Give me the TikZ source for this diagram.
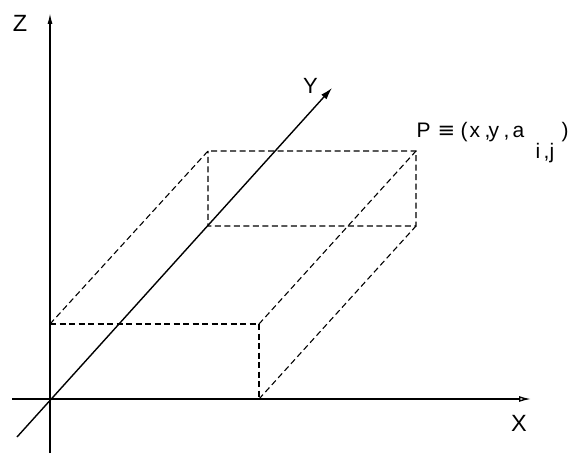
\documentclass[tikz,border=0pt]{standalone}
\usepackage{fontspec}
\setmainfont{Liberation Sans}
\newfontfamily\symfont{DejaVu Sans}
\usetikzlibrary{arrows.meta}
\newcommand\glyphat[3][0pt]{\makebox[0pt][l]{\hspace{#2}\raisebox{#1}{#3}}}
\begin{document}
\begin{tikzpicture}[x=1pt,y=-1pt,
  axis/.style={line width=1.4pt,black},
  hid/.style={line width=1.1pt,black,dash pattern=on 6pt off 3.5pt},
  lbl/.style={inner sep=0pt,font=\fontsize{23.5}{23.5}\selectfont}]
\useasboundingbox (0,0) rectangle (572,457);
% axis end points
\coordinate (O) at (50,399);
\coordinate (Zb) at (50,453);
\coordinate (Zt) at (50,13);
\coordinate (Xl) at (12,399);
\coordinate (Xr) at (531,399);
\coordinate (Yb) at (17,437);
\coordinate (Yt) at (332,88);
% box corners
\coordinate (A) at (50,324);   % front top left
\coordinate (B) at (259,324);  % front top right
\coordinate (C) at (259,399);  % front bottom right
\coordinate (D) at (208,151);  % back top left
\coordinate (P) at (416,151);  % back top right (point P)
\coordinate (E) at (208,226);  % back bottom left
\coordinate (F) at (416,226);  % back bottom right
% axes
\draw[axis,-{Latex[length=11pt,width=5pt]}] (Zb) -- (Zt);
\draw[axis,-{Latex[length=12pt,width=6pt,open]}] (Xl) -- (Xr);
\draw[axis,-{Latex[length=12pt,width=7pt]}] (Yb) -- (Yt);
% box
\draw[hid] (A) -- (B) -- (C);
\draw[hid] (A) -- (D) -- (P) -- (F) -- (E) -- (D);
\draw[hid] (B) -- (P);
\draw[hid] (C) -- (F);
% labels
\node[lbl] (zl) at (20,23.5) {Z};
\node[lbl] (xl) at (519,423.5) {X};
\node[lbl,font=\fontsize{22}{22}\selectfont] (yl) at (310.5,86) {Y};
\node[lbl,anchor=base west,font=\fontsize{21}{21}\selectfont] (pl) at (416,138)
  {\glyphat{0pt}{P}\glyphat{21pt}{\symfont ≡}\glyphat{44pt}{(}\glyphat{53pt}{x}%
   \glyphat{68pt}{,}\glyphat{72pt}{y}\glyphat{87pt}{,}\glyphat{96pt}{a}%
   \glyphat[-21pt]{119pt}{i}\glyphat[-21pt]{127pt}{,}\glyphat[-21pt]{133pt}{j}%
   \glyphat{145pt}{)}\hspace{152pt}};
\end{tikzpicture}
\end{document}
